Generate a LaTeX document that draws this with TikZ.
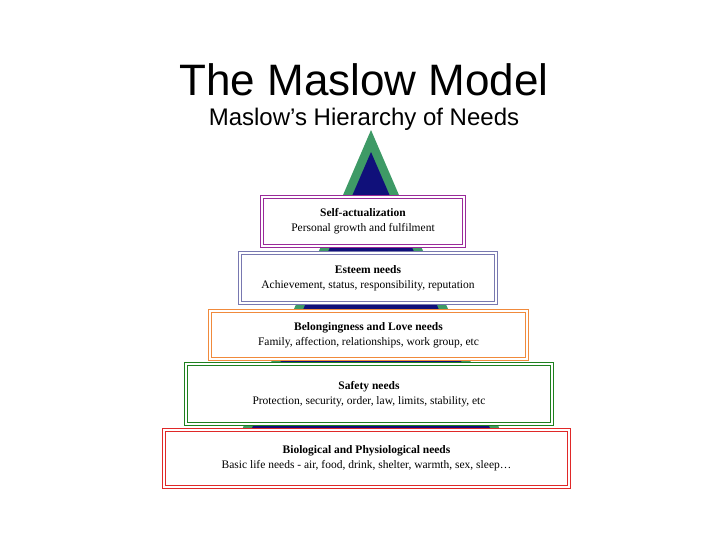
\documentclass[tikz,border=0pt]{standalone}
\usepackage{fontspec}
\setmainfont{Liberation Serif}
\newfontfamily\headfont{Liberation Sans}
\definecolor{pgreen}{HTML}{3E9A66}
\definecolor{pblue}{HTML}{10107A}
\definecolor{cpurple}{HTML}{9A2A9A}
\definecolor{cslate}{HTML}{7878B0}
\definecolor{corange}{HTML}{F08A3C}
\definecolor{cgreen}{HTML}{1E801E}
\definecolor{cred}{HTML}{E02828}
\begin{document}
\begin{tikzpicture}[x=1pt,y=-1pt,
  lvl/.style={draw=#1,fill=white,line width=1.1pt,double=white,double distance=1.8pt,align=center,inner sep=0pt,font=\fontsize{11.5}{15}\selectfont},
]
\useasboundingbox (0,0) rectangle (728,546);
\node[font=\headfont\fontsize{44}{48}\selectfont] (title) at (364,80) {The Maslow Model};
\node[font=\headfont\fontsize{24}{28}\selectfont] (sub) at (364,119) {Maslow’s Hierarchy of Needs};
\fill[pgreen] (371,130) -- (217,488) -- (525,488) -- cycle;
\fill[pblue] (371,152) -- (234,470) -- (508,470) -- cycle;
\node[lvl=cpurple,minimum width=202pt,minimum height=49pt] (b1) at (363,221.5) {\textbf{Self-actualization}\\Personal growth and fulfilment};
\node[lvl=cslate,minimum width=256pt,minimum height=50pt] (b2) at (368,278) {\textbf{Esteem needs}\\Achievement, status, responsibility, reputation};
\node[lvl=corange,minimum width=317pt,minimum height=48pt] (b3) at (368.5,335) {\textbf{Belongingness and Love needs}\\Family, affection, relationships, work group, etc};
\node[lvl=cgreen,minimum width=366pt,minimum height=60pt] (b4) at (369,394) {\textbf{Safety needs}\\Protection, security, order, law, limits, stability, etc};
\node[lvl=cred,minimum width=405pt,minimum height=57pt] (b5) at (366.5,458.5) {\textbf{Biological and Physiological needs}\\Basic life needs - air, food, drink, shelter, warmth, sex, sleep…};
\end{tikzpicture}
\end{document}
